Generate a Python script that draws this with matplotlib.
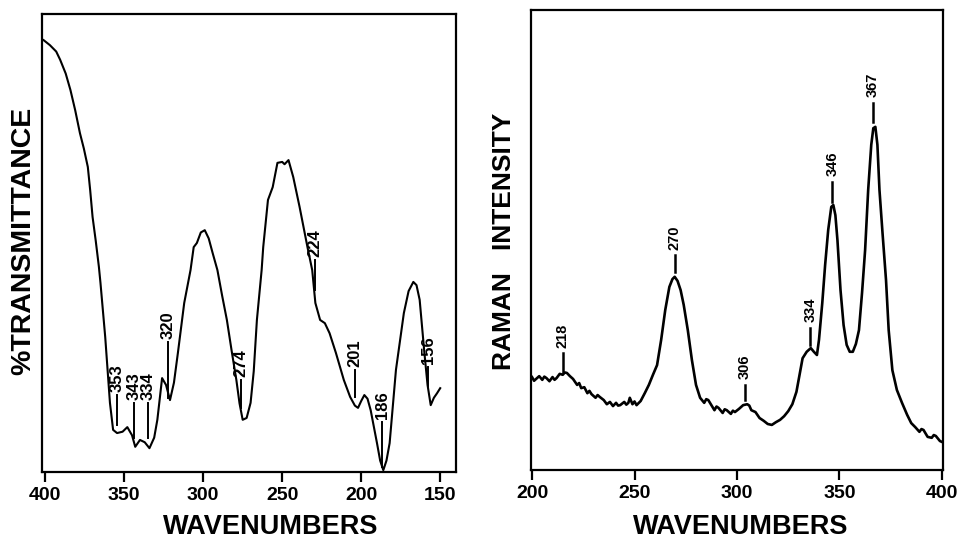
import numpy as np
import matplotlib
matplotlib.use("Agg")
from matplotlib import pyplot as plt

plt.rcParams['font.family'] = ['Liberation Sans', 'DejaVu Sans']

## IR spectrum (far infrared), wavenumber vs %T
ir_wn = [401, 397, 393, 390.5, 387, 384, 381, 378, 375.5, 373, 371.5, 370, 368, 366, 365, 362,
         359, 357, 354.5, 351, 348,
         345, 343, 340, 337, 334, 331, 329, 326, 323.5, 321, 318.5, 316, 312, 308, 306, 304,
         301.5, 299, 296.5, 294, 291, 288, 285, 282, 279, 277, 275, 272.5, 270, 268, 266,
         263, 262, 259, 256, 253, 250, 248.5, 246, 243, 239, 234, 231, 229, 226, 223, 220,
         216, 211, 207, 204, 202, 200, 198, 196, 194, 190, 188, 186, 184, 182, 178, 173,
         170, 167, 165, 163, 160, 158, 156, 154, 152, 150]
ir_t = [94.3, 93.2, 91.8, 90.0, 87.0, 83.4, 79.0, 74.0, 70.6, 66.6, 61.5, 55.7, 50.5, 44.8, 41.3, 29.5,
        15.1, 9.2, 8.5, 8.8, 9.8,
        8.0, 5.5, 7.0, 6.5, 5.2, 7.5, 11.4, 20.5, 19.0, 15.7, 19.5, 26.0, 36.9, 44.1, 49.1, 50.0,
        52.3, 52.8, 51.0, 47.8, 44.1, 38.5, 33.2, 26.5, 20.1, 15.0, 11.4, 11.8, 15.1, 22.0, 33.2,
        44.1, 49.1, 59.4, 62.2, 67.5, 67.7, 67.2, 68.1, 64.4, 57.9, 49.1, 44.1, 36.9, 33.2, 32.5, 30.3,
        26.0, 20.1, 16.4, 14.5, 14.0, 15.5, 16.8, 16.0, 13.5, 6.3, 2.5, 0.4, 2.5, 6.3, 22.3, 34.7,
        39.5, 41.5, 40.8, 37.6, 26.0, 19.0, 14.6, 16.2, 17.2, 18.3]

# marker labels and where their ticks sit (wavenumber, tick bottom, tick top in %T)
ir_labels = ['353', '343', '334', '320', '274', '224', '201', '186', '156']
ir_label_wn = [354.4, 343.7, 334.8, 322, 276, 229, 203.8, 186.7, 157.6]
ir_tick_lo = [10.3, 7.4, 7.4, 16.2, 14.0, 39.7, 16.4, 1.1, 18.6]
ir_tick_hi = [16.8, 15.1, 15.1, 28.4, 20.1, 46.3, 22.3, 10.9, 22.9]

## Raman spectrum
ra_wn = [200, 201, 202, 203.5, 205, 206, 207, 208.5, 210, 211, 212, 213.5, 215, 216, 217, 218.5,
         220, 222, 223, 224, 225.5, 227, 228, 229, 231, 232, 233, 235, 236.5, 238, 239.5, 241,
         242, 243, 245, 246, 247, 247.7, 249, 250, 251, 253, 255, 257, 259, 261, 263, 265, 267,
         268.5, 269.6, 271, 272.5, 274, 276, 278, 280, 282, 284, 285, 286, 287.5, 289, 290, 291,
         293, 294, 295, 297, 298, 299, 301, 303, 305, 306, 307, 309, 311, 313, 315, 317, 319, 321,
         323, 325, 327, 329, 330.5, 332, 334, 336, 337.5, 339, 340, 341.6, 343, 344.5, 346, 347,
         348, 349, 350.5, 352, 353.5, 355, 356.5, 358, 359.5, 361, 362.5, 364, 365.5, 366.5, 367.5,
         368.5, 369.5, 371, 372.7, 374, 375.8, 378, 380.5, 383, 385, 387, 389, 390, 391, 393, 395,
         396, 397, 399, 400]
ra_int = [20.2, 19.4, 19.8, 20.4, 19.6, 20.3, 20.0, 19.3, 20.2, 19.6, 20.0, 20.9, 20.7, 21.2, 21.1,
          20.4, 19.8, 18.5, 18.9, 17.8, 18.0, 16.7, 17.2, 16.5, 15.7, 16.3, 15.9, 15.2, 14.3, 14.8,
          13.9, 14.6, 14.0, 14.1, 14.8, 14.2, 14.6, 15.7, 14.3, 14.9, 14.1, 15.0, 16.7, 18.5, 20.7,
          22.8, 28.3, 34.8, 39.8, 41.5, 42.0, 41.1, 39.1, 35.9, 30.4, 23.9, 18.5, 15.7, 14.6, 15.4,
          15.2, 14.1, 13.0, 13.8, 13.5, 12.4, 13.2, 13.0, 12.2, 12.9, 12.6, 13.3, 14.1, 14.3, 14.0,
          13.0, 12.6, 11.3, 10.7, 10.0, 9.8, 10.4, 10.9, 11.7, 12.8, 14.3, 17.0, 20.7, 24.3, 25.7,
          26.5, 25.7, 25.0, 28.3, 36.3, 44.6, 52.2, 57.2, 57.6, 55.4, 50.0, 39.1, 31.5, 27.2, 25.7,
          25.7, 27.4, 30.4, 38.5, 47.8, 60.9, 70.7, 74.3, 74.6, 70.7, 60.9, 51.5, 41.3, 30.4, 21.7,
          17.4, 14.6, 12.0, 10.2, 9.3, 8.3, 8.9, 8.7, 7.2, 7.0, 7.6, 7.4, 6.3, 6.1]

ra_labels = ['218', '270', '306', '334', '346', '367']
ra_label_wn = [215, 269.6, 304, 335.8, 346.5, 366.4]
ra_tick_lo = [21.3, 43.0, 15.2, 27.2, 58.3, 75.7]
ra_tick_hi = [25.4, 46.7, 18.5, 30.9, 62.6, 79.8]


fig = plt.figure(figsize=(9.61, 5.39), dpi=100)

# left panel - IR
ax1 = fig.add_axes([42/961, 1 - 472/539, 414/961, 458/539])
ax1.plot(ir_wn, ir_t, color='black', lw=1.5)
ax1.set_xlim(402, 140)
ax1.set_ylim(0, 100)
ax1.set_xticks([400, 350, 300, 250, 200, 150])
for lab, x, lo, hi in zip(ir_labels, ir_label_wn, ir_tick_lo, ir_tick_hi):
    ax1.plot([x, x], [lo, hi], color='black', lw=1.4)
    ax1.annotate(lab, (x, hi), xytext=(0, 2), textcoords='offset points',
                 rotation=90, ha='center', va='bottom', fontsize=12, fontweight='bold')

# right panel - Raman
ax2 = fig.add_axes([531/961, 1 - 470/539, 412/961, 460/539])
ax2.plot(ra_wn, ra_int, color='black', lw=1.9)
ax2.set_xlim(199.5, 400.5)
ax2.set_ylim(0, 100)
ax2.set_xticks([200, 250, 300, 350, 400])
for lab, x, lo, hi in zip(ra_labels, ra_label_wn, ra_tick_lo, ra_tick_hi):
    ax2.plot([x, x], [lo, hi], color='black', lw=1.8)
    ax2.annotate(lab, (x, hi), xytext=(0, 4), textcoords='offset points',
                 rotation=90, ha='center', va='bottom', fontsize=10.5, fontweight='bold')

for ax in [ax1, ax2]:
    ax.set_yticks([])
    for s in ax.spines.values():
        s.set_linewidth(1.6)
    ax.tick_params(axis='x', direction='out', length=7, width=1.6, pad=4, labelsize=14)
    for t in ax.get_xticklabels():
        t.set_fontweight('bold')

# axis titles
fig.text(271/961, 1 - 527/539, 'WAVENUMBERS', ha='center', va='center',
         fontsize=19.5, fontweight='bold')
fig.text(741/961, 1 - 527/539, 'WAVENUMBERS', ha='center', va='center',
         fontsize=19.5, fontweight='bold')
fig.text(23/961, 1 - 241/539, '%TRANSMITTANCE', ha='center', va='center',
         rotation=90, fontsize=20.5, fontweight='bold')
fig.text(504/961, 1 - 241/539, 'RAMAN   INTENSITY', ha='center', va='center',
         rotation=90, fontsize=19, fontweight='bold')

plt.savefig('out.png', dpi=100)
